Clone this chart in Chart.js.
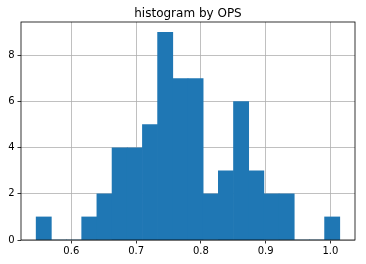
<!DOCTYPE html>
<html lang="en">
<head>
    <meta charset="UTF-8">
    <title>histogram by OPS</title>
    <script src="https://cdn.jsdelivr.net/npm/chart.js"></script>
    <style>
        body {
            margin: 0;
            background: #fff;
        }
        canvas {
            display: block;
        }
    </style>
</head>
<body>
<canvas id="hist" width="366" height="264"></canvas>

<script>
    // histogram data (20 bins)
    const binStart = 0.5457;
    const binWidth = 0.02344;
    const counts = [1, 0, 0, 1, 2, 4, 4, 5, 9, 7, 7, 2, 3, 6, 3, 2, 2, 0, 0, 1];
    const xTicks = [0.6, 0.7, 0.8, 0.9, 1.0];
    const yTicks = [0, 2, 4, 6, 8];
    const titleText = 'histogram by OPS';

    const points = counts.map((c, i) => ({ x: binStart + binWidth * (i + 0.5), y: c }));

    // matplotlib style frame + title
    const framePlugin = {
        id: 'frame',
        afterDraw(chart) {
            const ctx = chart.ctx;
            const a = chart.chartArea;
            ctx.save();
            ctx.strokeStyle = '#000';
            ctx.lineWidth = 0.8;
            ctx.strokeRect(a.left, a.top, a.right - a.left, a.bottom - a.top);
            ctx.fillStyle = '#000';
            ctx.font = '12px "DejaVu Sans"';
            ctx.textAlign = 'center';
            ctx.textBaseline = 'alphabetic';
            ctx.fillText(titleText, (a.left + a.right) / 2, 16.5);
            ctx.restore();
        }
    };

    const tickFont = { family: 'DejaVu Sans', size: 10 };

    new Chart(document.getElementById('hist').getContext('2d'), {
        type: 'bar',
        data: {
            datasets: [{
                data: points,
                backgroundColor: '#1f77b4',
                borderWidth: 0,
                barPercentage: 1,
                categoryPercentage: 1
            }]
        },
        options: {
            responsive: false,
            animation: false,
            layout: { padding: { top: 22, right: 11, left: 0, bottom: 0 } },
            plugins: {
                legend: { display: false },
                title: { display: false },
                tooltip: { enabled: false }
            },
            scales: {
                x: {
                    type: 'linear',
                    min: 0.5223,
                    max: 1.038,
                    offset: false,
                    z: 1,
                    afterBuildTicks: s => { s.ticks = xTicks.map(v => ({ value: v })); },
                    afterFit: s => { s.height = 24; },
                    grid: { offset: false, color: '#b0b0b0', lineWidth: 0.8, tickLength: 3.5, tickColor: '#000', tickWidth: 0.8 },
                    border: { display: false },
                    ticks: {
                        font: tickFont,
                        color: '#000',
                        padding: 2,
                        maxRotation: 0,
                        callback: v => v.toFixed(1)
                    }
                },
                y: {
                    min: 0,
                    max: 9.45,
                    z: 1,
                    afterBuildTicks: s => { s.ticks = yTicks.map(v => ({ value: v })); },
                    afterFit: s => { s.width = 21; },
                    grid: { color: '#b0b0b0', lineWidth: 0.8, tickLength: 3.5, tickColor: '#000', tickWidth: 0.8 },
                    border: { display: false },
                    ticks: {
                        font: tickFont,
                        color: '#000',
                        padding: 3,
                        callback: v => String(v)
                    }
                }
            }
        },
        plugins: [framePlugin]
    });
</script>
</body>
</html>
